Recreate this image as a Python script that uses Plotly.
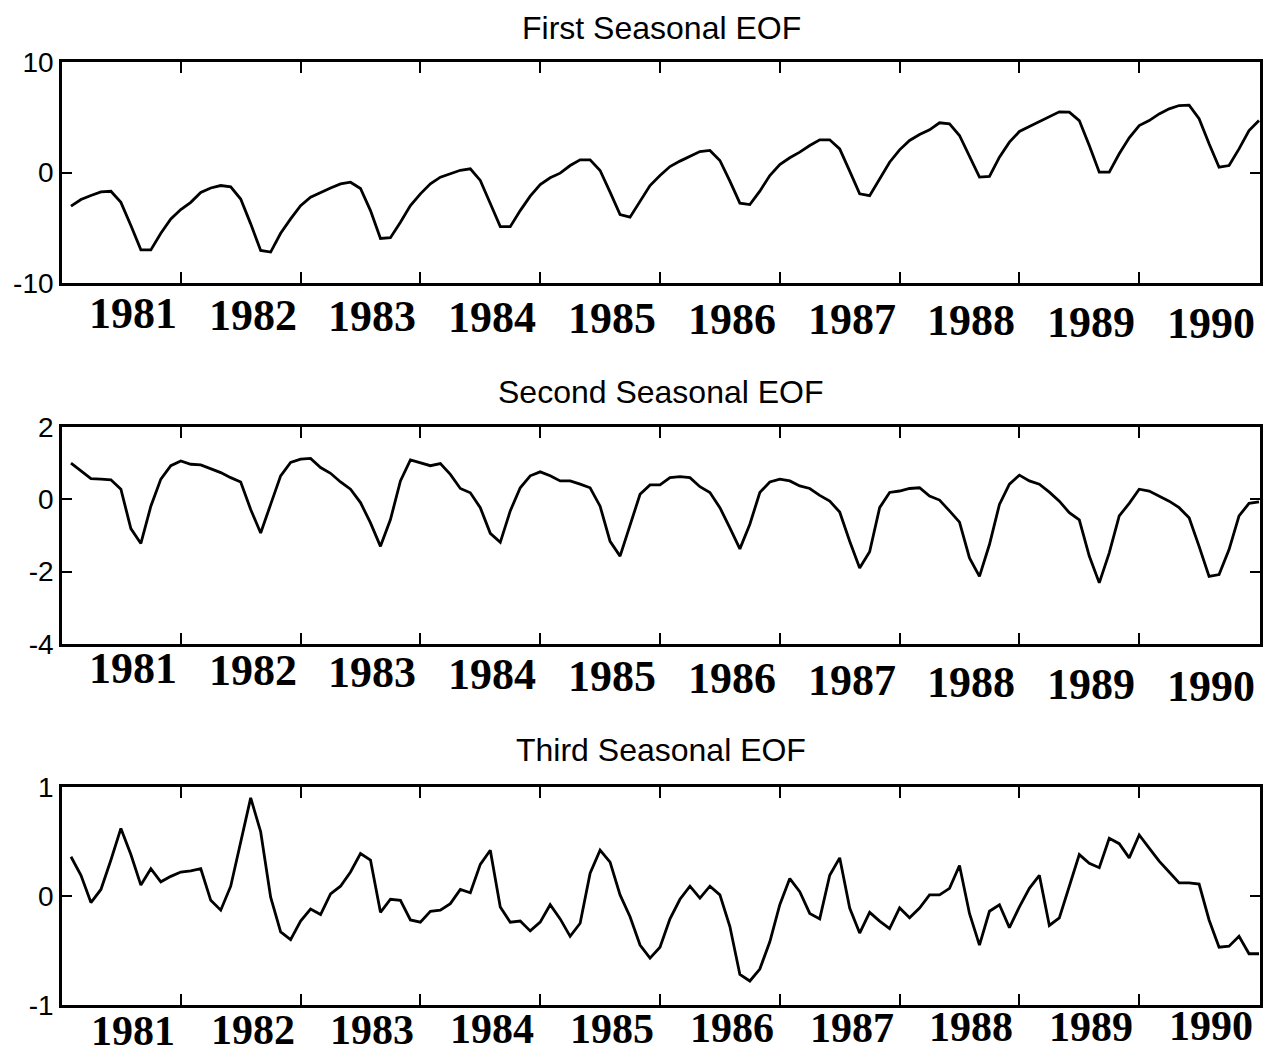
import plotly.graph_objects as go

months = list(range(120))
years = ["1981", "1982", "1983", "1984", "1985", "1986", "1987", "1988", "1989", "1990"]
year_ticks = [11, 23, 35, 47, 59, 71, 83, 95, 107]

eof1 = [-3.05, -2.45, -2.08, -1.75, -1.7, -2.7, -4.8, -7.0, -7.0, -5.5, -4.2, -3.35,
        -2.7, -1.8, -1.4, -1.18, -1.3, -2.4, -4.65, -7.05, -7.2, -5.5, -4.2, -3.0,
        -2.23, -1.8, -1.4, -1.03, -0.88, -1.45, -3.45, -5.97, -5.9, -4.5, -3.0, -1.93,
        -1.03, -0.42, -0.12, 0.2, 0.33, -0.72, -2.8, -4.9, -4.9, -3.45, -2.14, -1.09,
        -0.48, -0.06, 0.63, 1.15, 1.15, 0.18, -1.78, -3.8, -4.04, -2.6, -1.18, -0.27,
        0.54, 1.03, 1.45, 1.9, 2.0, 1.09, -0.78, -2.77, -2.9, -1.69, -0.27, 0.72,
        1.33, 1.84, 2.44, 2.96, 2.96, 2.14, 0.12, -1.93, -2.1, -0.57, 0.93, 2.05,
        2.9, 3.44, 3.86, 4.5, 4.4, 3.35, 1.45, -0.42, -0.36, 1.39, 2.75, 3.71,
        4.16, 4.6, 5.0, 5.49, 5.46, 4.7, 2.44, 0.03, 0.03, 1.69, 3.14, 4.25,
        4.7, 5.3, 5.76, 6.06, 6.1, 4.86, 2.6, 0.48, 0.63, 2.14, 3.8, 4.7]

eof2 = [1.0, 0.79, 0.57, 0.56, 0.54, 0.28, -0.81, -1.22, -0.19, 0.56, 0.93, 1.06,
        0.97, 0.95, 0.85, 0.74, 0.6, 0.48, -0.28, -0.93, -0.14, 0.65, 1.02, 1.11,
        1.13, 0.88, 0.72, 0.48, 0.28, -0.09, -0.65, -1.3, -0.56, 0.51, 1.09, 1.0,
        0.93, 0.99, 0.69, 0.3, 0.18, -0.23, -0.94, -1.19, -0.32, 0.32, 0.65, 0.76,
        0.65, 0.51, 0.51, 0.42, 0.32, -0.19, -1.16, -1.57, -0.74, 0.14, 0.4, 0.4,
        0.6, 0.63, 0.6, 0.35, 0.19, -0.23, -0.79, -1.37, -0.69, 0.19, 0.48, 0.56,
        0.51, 0.37, 0.3, 0.11, -0.05, -0.35, -1.16, -1.9, -1.45, -0.23, 0.19, 0.23,
        0.3, 0.32, 0.09, -0.02, -0.32, -0.63, -1.62, -2.13, -1.25, -0.14, 0.42, 0.67,
        0.51, 0.42, 0.2, -0.05, -0.37, -0.57, -1.57, -2.31, -1.48, -0.46, -0.11, 0.28,
        0.23, 0.09, -0.05, -0.23, -0.51, -1.3, -2.13, -2.08, -1.39, -0.46, -0.11, -0.07]

eof3 = [0.36, 0.19, -0.06, 0.06, 0.33, 0.62, 0.38, 0.1, 0.25, 0.13, 0.18, 0.22,
        0.23, 0.25, -0.04, -0.13, 0.09, 0.48, 0.9, 0.59, -0.01, -0.33, -0.4, -0.23,
        -0.12, -0.17, 0.02, 0.09, 0.22, 0.39, 0.33, -0.15, -0.03, -0.04, -0.22, -0.24,
        -0.14, -0.13, -0.07, 0.06, 0.03, 0.29, 0.42, -0.1, -0.24, -0.23, -0.32, -0.24,
        -0.08, -0.21, -0.37, -0.25, 0.21, 0.42, 0.31, 0.01, -0.19, -0.45, -0.57, -0.47,
        -0.21, -0.03, 0.09, -0.02, 0.09, 0.01, -0.28, -0.72, -0.78, -0.67, -0.42, -0.08,
        0.16, 0.04, -0.16, -0.21, 0.19, 0.35, -0.11, -0.34, -0.15, -0.23, -0.3, -0.11,
        -0.2, -0.11, 0.01, 0.01, 0.07, 0.28, -0.16, -0.45, -0.14, -0.08, -0.29, -0.1,
        0.07, 0.19, -0.27, -0.2, 0.09, 0.38, 0.3, 0.26, 0.53, 0.48, 0.35, 0.56,
        0.44, 0.32, 0.22, 0.12, 0.12, 0.11, -0.22, -0.47, -0.46, -0.37, -0.53, -0.53]

titles = ["First Seasonal EOF", "Second Seasonal EOF", "Third Seasonal EOF"]
y_ranges = [[-10, 10], [-4, 2], [-1, 1]]
y_ticks = [[-10, 0, 10], [-4, -2, 0, 2], [-1, 0, 1]]
y_ticktext = [["-10", "0", "10"], ["-4", "-2", "0", "2"], ["-1", "0", "1"]]

# the page body adds an 8px margin around the figure; layout below is in
# screen pixels and is converted to figure coordinates
PAGE = 8
W, H = 1273 - PAGE, 1057 - PAGE
panels_px = [(62, 283), (427, 644), (787, 1005)]
title_y_px = [28, 392, 750]
label_y_px = [(314, 323), (668, 686), (1031, 1026)]
label_size = [44, 44, 42]
plot_left, plot_right = 62, 1260

def py(px):
    return 1 - (px - PAGE) / H

fig = go.Figure()
series = [eof1, eof2, eof3]
layout_axes = {}
annotations = []
for i, s in enumerate(series):
    xa = "x" if i == 0 else f"x{i+1}"
    ya = "y" if i == 0 else f"y{i+1}"
    fig.add_trace(go.Scatter(x=months, y=s, mode="lines",
                             line=dict(color="black", width=2.8),
                             xaxis=xa, yaxis=ya, showlegend=False))
    top, bot = panels_px[i]
    xname = "xaxis" if i == 0 else f"xaxis{i+1}"
    yname = "yaxis" if i == 0 else f"yaxis{i+1}"
    layout_axes[xname] = dict(domain=[0, 1], anchor=ya, range=[-0.9, 119.1],
                              tickvals=year_ticks, showticklabels=False,
                              ticks="inside", ticklen=11, tickwidth=2, tickcolor="black",
                              showline=True, linecolor="black", linewidth=2.7,
                              mirror="ticks", showgrid=False, zeroline=False,
                              automargin=False)
    layout_axes[yname] = dict(domain=[py(bot), py(top)], anchor=xa, range=y_ranges[i],
                              tickvals=y_ticks[i], ticktext=y_ticktext[i],
                              ticks="inside", ticklen=10,
                              tickwidth=2, tickcolor="black",
                              showline=True, linecolor="black", linewidth=2.7,
                              mirror="ticks", showgrid=False, zeroline=False,
                              automargin=False,
                              tickfont=dict(family="Liberation Sans, Arial", size=28,
                                            color="black"))
    annotations.append(dict(text=titles[i], x=0.5, xref="paper", y=py(title_y_px[i]),
                            yref="paper", xanchor="center", yanchor="middle",
                            showarrow=False,
                            font=dict(family="Liberation Sans, Arial", size=32,
                                      color="black")))
    y0, y1 = label_y_px[i]
    for j, yr in enumerate(years):
        ypx = y0 + (y1 - y0) * j / (len(years) - 1)
        annotations.append(dict(text=f"<b>{yr}</b>", x=12 * j + 6.2, xref=xa,
                                y=py(ypx), yref="paper", xanchor="center",
                                yanchor="middle", showarrow=False,
                                font=dict(family="Liberation Serif, Times New Roman",
                                          size=label_size[i], color="black")))

fig.update_layout(template="none", width=W, height=H,
                  margin=dict(l=plot_left - PAGE, r=1273 - plot_right, t=0, b=0,
                              autoexpand=False),
                  paper_bgcolor="white", plot_bgcolor="white",
                  annotations=annotations, **layout_axes)
fig.write_html("out.html")
